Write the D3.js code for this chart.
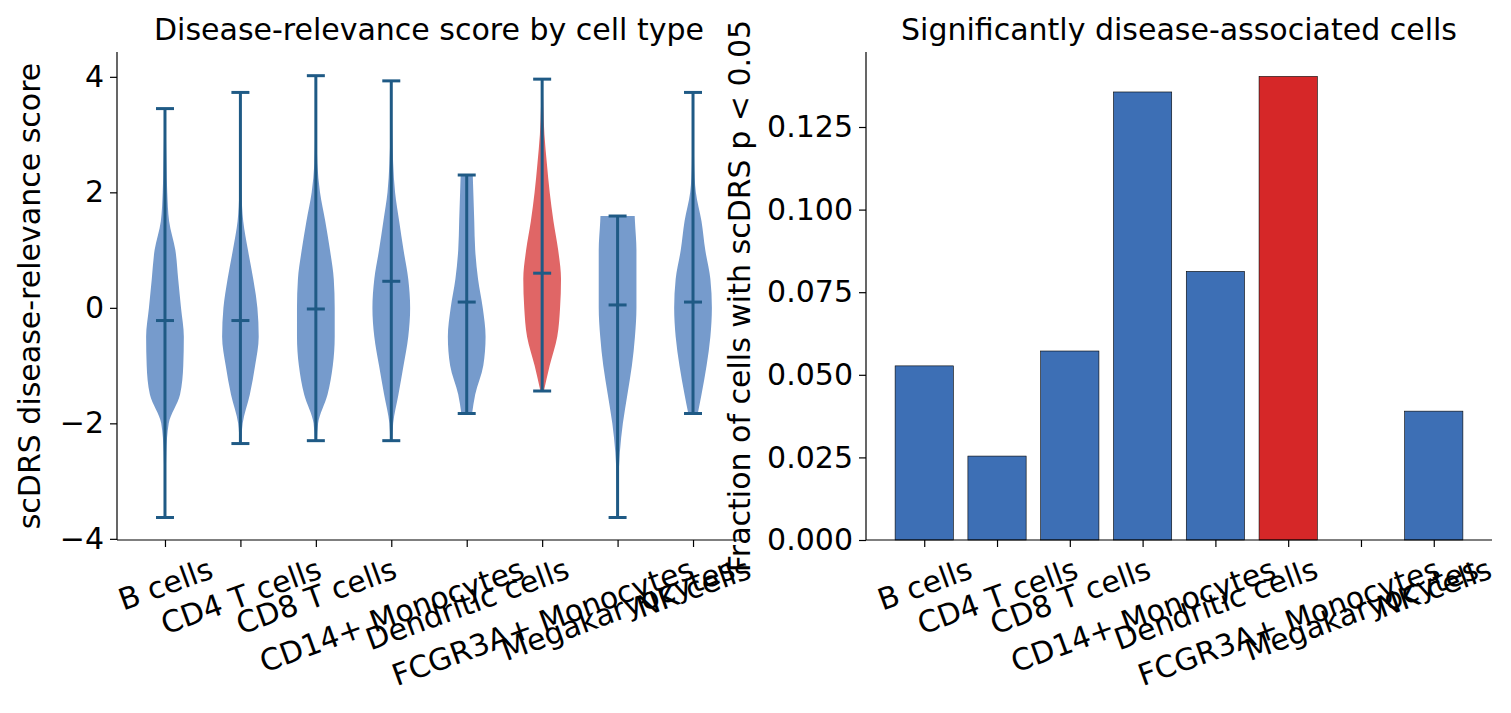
<!DOCTYPE html>
<html><head><meta charset="utf-8">
<script src="https://cdn.jsdelivr.net/npm/d3@7"></script>
<style>body{margin:0;background:#fff} svg text{font-family:"DejaVu Sans";fill:#000}</style>
</head><body><svg id="c" width="1511" height="713"></svg>
<script>
// categories and values
var cells = ["B cells","CD4 T cells","CD8 T cells","CD14+ Monocytes","Dendritic cells","FCGR3A+ Monocytes","Megakaryocytes","NK cells"];
var mins = [-3.63,-2.35,-2.3,-2.3,-1.83,-1.44,-3.63,-1.83];
var maxs = [3.45,3.73,4.02,3.93,2.3,3.96,1.59,3.73];
var medians = [-0.22,-0.22,-0.02,0.46,0.1,0.6,0.05,0.1];
// density grid y = -4, -3.5, ... 4 (relative widths)
var gridY = d3.range(-4,4.01,0.5);
var dens = [
 [0.02,0.03,0.04,0.07,0.2,0.8,0.97,1,0.85,0.7,0.55,0.22,0.12,0.08,0.05,0.03,0.02],
 [0,0,0,0.02,0.12,0.5,0.78,0.97,0.9,0.68,0.4,0.15,0.06,0.04,0.03,0.02,0.02],
 [0,0,0,0.02,0.12,0.62,0.9,1,1,0.95,0.75,0.5,0.22,0.08,0.04,0.03,0.02],
 [0,0,0,0.03,0.1,0.38,0.65,0.9,1,0.9,0.65,0.42,0.2,0.1,0.05,0.03,0.02],
 [0,0,0,0,0.2,0.45,0.88,1,0.85,0.6,0.45,0.4,0.35,0.3,0,0,0],
 [0,0,0,0,0,0.05,0.4,0.8,0.95,1,0.85,0.6,0.4,0.25,0.12,0.06,0.03],
 [0.02,0.03,0.05,0.12,0.28,0.52,0.76,0.92,1,1,1,0.92,0.85,0.8,0,0,0],
 [0,0,0,0.03,0.15,0.45,0.72,0.92,1,0.92,0.65,0.45,0.15,0.06,0.04,0.03,0.02]
];
var fracs = [0.0527,0.0254,0.0572,0.1356,0.0813,0.1403,0,0.0390];
var hl = 5;
var FS = 30;

var svg = d3.select("#c");
var rad = 20*Math.PI/180;
function xLabels(g, names){
  g.selectAll(".tick text").remove();
  g.selectAll(".tick").append("text").text(function(d){return names(d);})
   .attr("text-anchor","middle").attr("font-size",FS).attr("dy","0.35em")
   .attr("transform",function(){
     var w = this.getComputedTextLength(), h = FS*1.1;
     var off = 12 + (w*Math.sin(rad)+h*Math.cos(rad))/2;
     return "translate(0,"+off+") rotate(-20)";
   });
}
function styleAxis(g){
  g.attr("font-family",null).attr("font-size",null);
  g.selectAll("path,line").attr("stroke","#000").attr("stroke-width",1.2);
  g.selectAll("text").attr("font-size",FS).attr("fill","#000");
}

// left panel
var L = {l:117,r:741,t:52,b:540};
var x1 = d3.scaleLinear().domain([0.364,8.636]).range([L.l,L.r]);
var y1 = d3.scaleLinear().domain([-4.02,4.43]).range([L.b,L.t]);
var wS = d3.scaleLinear().domain([0,0.25]).range([0,x1(0.25)-x1(0)]);
cells.forEach(function(c,i){
  var cx = x1(i+1);
  var interp = function(v){
    var k = Math.min(15,Math.max(0,Math.floor((v+4)/0.5)));
    var t = (v-gridY[k])/0.5;
    return dens[i][k]*(1-t)+dens[i][k+1]*t;
  };
  var pts = [[mins[i],interp(mins[i])]];
  gridY.forEach(function(g,k){ if(g>mins[i]&&g<maxs[i]) pts.push([g,dens[i][k]]); });
  pts.push([maxs[i],interp(maxs[i])]);
  var area = d3.area().curve(d3.curveMonotoneY)
    .y(function(p){return y1(p[0]);})
    .x0(function(p){return cx-wS(0.25*p[1]);})
    .x1(function(p){return cx+wS(0.25*p[1]);});
  svg.append("path").datum(pts).attr("d",area)
    .attr("fill", i===hl?"#e06666":"#769bcc");
  var lc = "#1f5a85";
  svg.append("line").attr("x1",cx).attr("x2",cx).attr("y1",y1(mins[i])).attr("y2",y1(maxs[i])).attr("stroke",lc).attr("stroke-width",3);
  [mins[i],maxs[i],medians[i]].forEach(function(v){
    svg.append("line").attr("x1",cx-9).attr("x2",cx+9).attr("y1",y1(v)).attr("y2",y1(v)).attr("stroke",lc).attr("stroke-width",3);
  });
});
var ga = svg.append("g").attr("transform","translate("+L.l+",0)")
  .call(d3.axisLeft(y1).tickValues([-4,-2,0,2,4]).tickSize(7).tickPadding(6).tickFormat(function(d){return d<0?"\u2212"+(-d):d;}));
ga.select(".domain").attr("d","M0,"+L.b+"V"+L.t);
styleAxis(ga);
var gb = svg.append("g").attr("transform","translate(0,"+L.b+")")
  .call(d3.axisBottom(x1).tickValues(d3.range(1,9)).tickSize(7));
gb.select(".domain").attr("d","M"+L.l+",0H"+L.r);
styleAxis(gb); xLabels(gb, function(d){return cells[d-1];});
svg.append("text").attr("x",(L.l+L.r)/2).attr("y",40).attr("text-anchor","middle").attr("font-size",FS).text("Disease-relevance score by cell type");
svg.append("text").attr("transform","translate(40,296) rotate(-90)").attr("text-anchor","middle").attr("font-size",FS).text("scDRS disease-relevance score");

// right panel
var R = {l:866,r:1492,t:52,b:540};
var x2 = d3.scaleLinear().domain([-0.8,7.8]).range([R.l,R.r]);
var y2 = d3.scaleLinear().domain([0,0.1477]).range([R.b,R.t]);
var bw = x2(0.8)-x2(0);
svg.selectAll(".bar").data(fracs).enter().append("rect")
  .attr("x",function(d,i){return x2(i)-bw/2;}).attr("width",bw)
  .attr("y",function(d){return y2(d);}).attr("height",function(d){return R.b-y2(d);})
  .attr("fill",function(d,i){return i===hl?"#d62728":"#3d6fb5";})
  .attr("stroke","#000").attr("stroke-width",0.6);
var gc = svg.append("g").attr("transform","translate("+R.l+",0)")
  .call(d3.axisLeft(y2).tickValues([0,0.025,0.05,0.075,0.1,0.125]).tickSize(7).tickPadding(6).tickFormat(d3.format(".3f")));
gc.select(".domain").attr("d","M0,"+R.b+"V"+R.t);
styleAxis(gc);
var gd = svg.append("g").attr("transform","translate(0,"+R.b+")")
  .call(d3.axisBottom(x2).tickValues(d3.range(0,8)).tickSize(7));
gd.select(".domain").attr("d","M"+R.l+",0H"+R.r);
styleAxis(gd); xLabels(gd, function(d){return cells[d];});
svg.append("text").attr("x",(R.l+R.r)/2).attr("y",40).attr("text-anchor","middle").attr("font-size",FS).text("Significantly disease-associated cells");
svg.append("text").attr("transform","translate(750,296) rotate(-90)").attr("text-anchor","middle").attr("font-size",FS).text("Fraction of cells with scDRS p < 0.05");
</script></body></html>
